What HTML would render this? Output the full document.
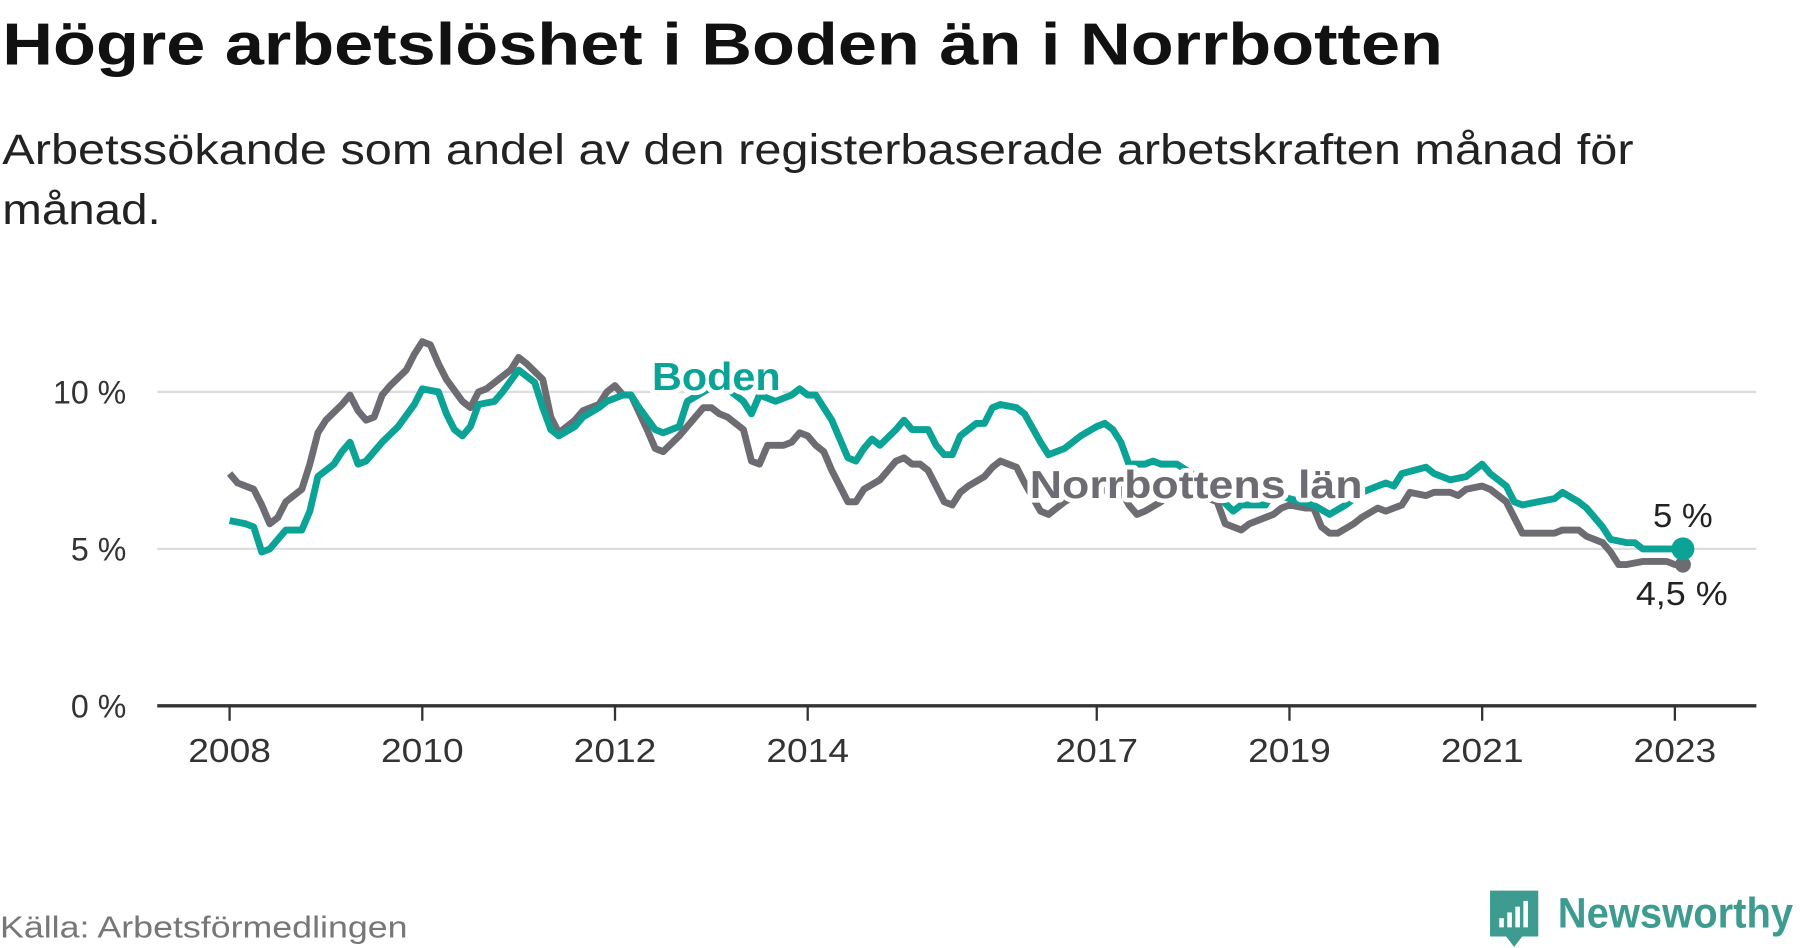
<!DOCTYPE html>
<html><head><meta charset="utf-8"><style>
html,body{margin:0;padding:0;background:#fff;}
svg{display:block;font-family:"Liberation Sans",sans-serif;}
</style></head><body>
<svg id="chart" width="1800" height="948" viewBox="0 0 1568 826" preserveAspectRatio="none" xmlns="http://www.w3.org/2000/svg">
<text x="2" y="56" font-size="52" font-weight="bold" fill="#111" textLength="1255" lengthAdjust="spacingAndGlyphs">Högre arbetslöshet i Boden än i Norrbotten</text>
<text x="2" y="143" font-size="37" fill="#222" textLength="1421" lengthAdjust="spacingAndGlyphs">Arbetssökande som andel av den registerbaserade arbetskraften månad för</text>
<text x="2" y="195" font-size="37" fill="#222" textLength="138" lengthAdjust="spacingAndGlyphs">månad.</text>
<g id="grid"></g><g id="axes"></g><g id="series"></g><g id="labels"></g>
<text x="0" y="817" font-size="27" fill="#777" textLength="355" lengthAdjust="spacingAndGlyphs">Källa: Arbetsförmedlingen</text>
<g>
<path d="M1298 776 h42 v40 h-14 l-7 9 l-7 -9 h-14 z" fill="#3d9b8f"/>
<rect x="1306" y="800" width="4" height="8" fill="#fff"/><rect x="1313" y="795" width="4" height="13" fill="#fff"/><rect x="1320" y="790" width="4" height="18" fill="#fff"/><rect x="1327" y="785" width="4" height="23" fill="#fff"/>
<text x="1357" y="808" font-size="37" font-weight="bold" fill="#3d9b8f" textLength="205" lengthAdjust="spacingAndGlyphs">Newsworthy</text>
</g>
</svg>
<script>
const yTicks=[0,5,10];
const yTickLabels=["0 %","5 %","10 %"];
const xTickMonths=[0,24,48,72,108,132,156,180];
const xTickLabels=["2008","2010","2012","2014","2017","2019","2021","2023"];
const bodenMonths=[0,2,3,4,5,7,9,10,11,13,14,15,16,17,19,21,23,24,26,27,28,29,30,31,33,34,36,38,39,40,41,43,44,46,47,49,50,51,53,54,56,57,59,61,64,65,66,68,70,71,72,73,74,75,77,78,79,80,81,83,84,85,87,88,89,90,91,93,94,95,96,98,99,101,102,104,105,106,108,109,110,111,112,114,115,116,118,121,125,126,129,130,132,135,137,139,141,144,145,146,149,150,152,154,155,156,157,159,160,161,163,165,166,168,169,171,172,174,175,176,178,179,181];
const bodenValues=[5.9,5.8,5.7,4.9,5.0,5.6,5.6,6.2,7.3,7.7,8.1,8.4,7.7,7.8,8.4,8.9,9.6,10.1,10.0,9.3,8.8,8.6,8.9,9.6,9.7,10.0,10.7,10.3,9.5,8.8,8.6,8.9,9.2,9.5,9.7,9.9,9.9,9.5,8.8,8.7,8.9,9.7,10.0,10.3,9.7,9.3,9.9,9.7,9.9,10.1,9.9,9.9,9.5,9.1,7.9,7.8,8.2,8.5,8.3,8.8,9.1,8.8,8.8,8.3,8.0,8.0,8.6,9.0,9.0,9.5,9.6,9.5,9.3,8.4,8.0,8.2,8.4,8.6,8.9,9.0,8.8,8.4,7.7,7.7,7.8,7.7,7.7,7.2,6.2,6.4,6.4,6.8,6.6,6.4,6.1,6.4,6.8,7.1,7.0,7.4,7.6,7.4,7.2,7.3,7.5,7.7,7.4,7.0,6.5,6.4,6.5,6.6,6.8,6.5,6.3,5.7,5.3,5.2,5.2,5.0,5.0,5.0,5.0];
const norrMonths=[0,1,3,4,5,6,7,9,10,11,12,14,15,16,17,18,19,20,22,23,24,25,26,27,29,30,31,32,33,35,36,37,39,40,41,43,44,46,47,48,49,50,52,53,54,56,57,59,60,61,62,64,65,66,67,69,70,71,72,73,74,75,77,78,79,81,82,83,84,85,86,87,89,90,91,92,94,95,96,98,99,101,102,104,106,111,112,113,114,116,117,119,123,124,126,127,129,130,131,132,134,135,136,137,138,140,141,143,144,146,147,149,150,152,153,154,156,157,159,160,161,163,165,166,168,169,171,172,173,174,176,177,179,180,181];
const norrValues=[7.4,7.1,6.9,6.4,5.8,6.0,6.5,6.9,7.7,8.7,9.1,9.6,9.9,9.4,9.1,9.2,9.9,10.2,10.7,11.2,11.6,11.5,10.9,10.4,9.7,9.5,10.0,10.1,10.3,10.7,11.1,10.9,10.4,9.2,8.7,9.1,9.4,9.6,10.0,10.2,9.9,9.9,8.8,8.2,8.1,8.6,8.9,9.5,9.5,9.3,9.2,8.8,7.8,7.7,8.3,8.3,8.4,8.7,8.6,8.3,8.1,7.5,6.5,6.5,6.9,7.2,7.5,7.8,7.9,7.7,7.7,7.5,6.5,6.4,6.8,7.0,7.3,7.6,7.8,7.6,7.1,6.2,6.1,6.5,6.8,6.9,6.4,6.1,6.2,6.5,6.8,6.9,6.5,5.8,5.6,5.8,6.0,6.1,6.3,6.4,6.3,6.3,5.7,5.5,5.5,5.8,6.0,6.3,6.2,6.4,6.8,6.7,6.8,6.8,6.7,6.9,7.0,6.9,6.5,6.0,5.5,5.5,5.5,5.6,5.6,5.4,5.2,4.9,4.5,4.5,4.6,4.6,4.6,4.5,4.5];
const NS="http://www.w3.org/2000/svg";
const xS=m=>200+m*(1459-200)/180;
const yS=v=>615-v*27.35;
function mk(t,a,p){const e=document.createElementNS(NS,t);for(const k in a)e.setAttribute(k,a[k]);p.appendChild(e);return e;}
const g=document.getElementById('grid'),ax=document.getElementById('axes'),se=document.getElementById('series'),lb=document.getElementById('labels');
yTicks.forEach((v,i)=>{
 if(v>0){const l=mk('line',{x1:137,x2:1530,y1:yS(v),y2:yS(v),stroke:'#ddd','stroke-width':2},g);
 
 }
 const t=mk('text',{x:110,y:yS(v)+10,'text-anchor':'end','font-size':28,fill:'#333'},ax);t.textContent=yTickLabels[i];
 
 
});
const base=mk('line',{x1:137,x2:1530,y1:615,y2:615,stroke:'#333','stroke-width':3},ax);


xTickMonths.forEach((m,i)=>{
 const tk=mk('line',{x1:xS(m),x2:xS(m),y1:615,y2:628,stroke:'#333','stroke-width':2},ax);
 
 
 const t=mk('text',{x:xS(m),y:664,'text-anchor':'middle','font-size':29,fill:'#333',textLength:72,lengthAdjust:'spacingAndGlyphs'},ax);t.textContent=xTickLabels[i];
 
 
});
function line(ms,vs,col,name){
 const d=ms.map((m,i)=>(i?'L':'M')+xS(m).toFixed(1)+' '+yS(vs[i]).toFixed(1)).join(' ');
 const p=mk('path',{d:d,fill:'none',stroke:col,'stroke-width':6,'stroke-linejoin':'round'},se);
 
 
}
line(norrMonths,norrValues,'#6d6c72','norrbotten-line');
line(bodenMonths,bodenValues,'#0aa396','boden-line');
const nd=mk('circle',{cx:xS(norrMonths[norrMonths.length-1]),cy:yS(norrValues[norrValues.length-1]),r:7,fill:'#6d6c72'},se);


const bd=mk('circle',{cx:xS(bodenMonths[bodenMonths.length-1]),cy:yS(bodenValues[bodenValues.length-1]),r:10,fill:'#0aa396'},se);


function lab(txt,x,y,col,bold,name,halo,len){
 const t=mk('text',{x:x,y:y,'font-size':bold?34:29,'font-weight':bold?'bold':'normal',fill:col,'text-anchor':bold?'start':'middle',textLength:len,lengthAdjust:'spacingAndGlyphs'},lb);
 if(halo){t.setAttribute('stroke','#fff');t.setAttribute('stroke-width',8);t.setAttribute('paint-order','stroke');t.setAttribute('stroke-linejoin','round');}
 t.textContent=txt;
 
 
}
lab('Boden',568,340,'#0aa396',true,'boden-label',true,112);
lab('Norrbottens län',897,434,'#6d6c72',true,'norrbotten-label',true,290);
lab('5 %',1466,459,'#222',false,'boden-end-value',false,52);
lab('4,5 %',1465,527,'#222',false,'norrbotten-end-value',false,80);
</script>
</body></html>
